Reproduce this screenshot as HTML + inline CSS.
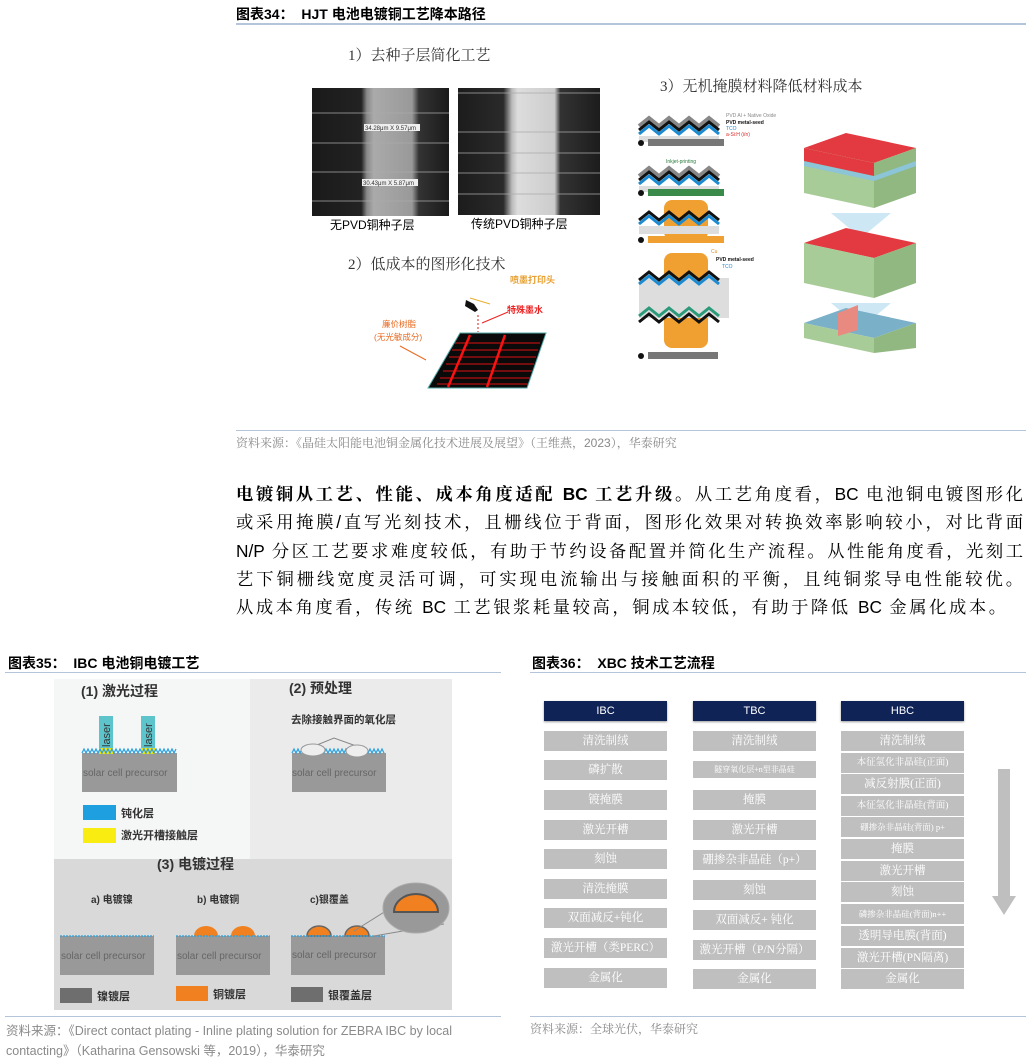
<!DOCTYPE html>
<html><head><meta charset="utf-8"><style>
*{margin:0;padding:0;box-sizing:border-box}
body{width:1030px;height:1061px;background:#fff;position:relative;overflow:hidden;font-family:"Liberation Sans","Noto Sans CJK SC",sans-serif;color:#000}
.a{position:absolute;white-space:nowrap}
.h{font-size:14px;font-weight:bold}
.rule{position:absolute;height:2px;background:#b4c4da}
.src{font-size:12px;color:#8a8a8a}
.p{position:absolute;left:236px;width:787px;font-size:17.3px;height:28px;line-height:28px;text-align:justify;text-align-last:justify;white-space:nowrap;font-family:"Liberation Sans","Noto Serif CJK SC",serif}
.hd{position:absolute;height:20px;background:#0f2357;color:#fff;font-size:11px;text-align:center;line-height:20px;box-shadow:0 1px 2px #999}
.b{position:absolute;height:20px;background:#bfbfbf;color:#fff;font-size:11.5px;text-align:center;line-height:20px;font-family:"Liberation Serif","Noto Serif CJK SC",serif}
</style></head><body>

<!-- Figure 34 -->
<div class="a h" style="left:236px;top:4px">图表34：&nbsp; HJT 电池电镀铜工艺降本路径</div>
<div class="rule" style="left:236px;top:23px;width:790px"></div>
<div class="a" style="left:348px;top:44px;font-size:15px;font-family:'Liberation Serif','Noto Serif CJK SC',serif;color:#333">1）去种子层简化工艺</div>
<svg class="a" style="left:312px;top:88px" width="290" height="130">
<defs>
<linearGradient id="g1" x1="0" x2="1"><stop offset="0" stop-color="#1a1a1a"/><stop offset=".36" stop-color="#222"/><stop offset=".4" stop-color="#888"/><stop offset=".45" stop-color="#aaa"/><stop offset=".73" stop-color="#999"/><stop offset=".78" stop-color="#333"/><stop offset="1" stop-color="#1a1a1a"/></linearGradient>
<linearGradient id="g2" x1="0" x2="1"><stop offset="0" stop-color="#1c1c1c"/><stop offset=".32" stop-color="#2a2a2a"/><stop offset=".38" stop-color="#bbb"/><stop offset=".42" stop-color="#ddd"/><stop offset=".68" stop-color="#ccc"/><stop offset=".72" stop-color="#333"/><stop offset="1" stop-color="#1c1c1c"/></linearGradient>
</defs>
<rect x="0" y="0" width="137" height="128" fill="url(#g1)"/>
<rect x="146" y="0" width="142" height="127" fill="url(#g2)"/>
<g stroke="#aaa" stroke-width="0.8"><line x1="0" y1="25" x2="137" y2="25"/><line x1="0" y1="55" x2="137" y2="55"/><line x1="0" y1="84" x2="137" y2="84"/><line x1="0" y1="113" x2="137" y2="113"/>
<line x1="146" y1="5" x2="288" y2="5"/><line x1="146" y1="44" x2="288" y2="44"/><line x1="146" y1="65" x2="288" y2="65"/><line x1="146" y1="85" x2="288" y2="85"/><line x1="146" y1="106" x2="288" y2="106"/></g>
<rect x="52" y="36" width="56" height="7" fill="#eee"/><text x="53" y="42" font-size="6" fill="#333">34.28μm X 9.57μm</text>
<rect x="50" y="91" width="56" height="7" fill="#eee"/><text x="51" y="97" font-size="6" fill="#333">30.43μm X 5.87μm</text>
</svg>
<div class="a" style="left:330px;top:216px;font-size:12px">无PVD铜种子层</div>
<div class="a" style="left:471px;top:215px;font-size:12px">传统PVD铜种子层</div>
<div class="a" style="left:348px;top:253px;font-size:15px;font-family:'Liberation Serif','Noto Serif CJK SC',serif;color:#333">2）低成本的图形化技术</div>
<svg class="a" style="left:360px;top:270px" width="280" height="130">
<polygon points="100,63 186,63 167,118 68,118" fill="#0a0a0a" stroke="#5aa" stroke-width="1"/>
<g stroke="#d11" stroke-width="1"><line x1="95" y1="73" x2="180" y2="73"/><line x1="92" y1="80" x2="178" y2="80"/><line x1="89" y1="87" x2="176" y2="87"/><line x1="86" y1="94" x2="174" y2="94"/><line x1="83" y1="101" x2="172" y2="101"/><line x1="80" y1="108" x2="170" y2="108"/><line x1="77" y1="114" x2="168" y2="114"/></g>
<g stroke="#f11" stroke-width="2.5"><line x1="110" y1="65" x2="88" y2="117"/><line x1="145" y1="65" x2="127" y2="117"/></g>
<path d="M106,30 l8,4 l4,6 l-3,2 l-10,-6z" fill="#111"/>
<line x1="118" y1="45" x2="118" y2="62" stroke="#c22" stroke-dasharray="2,2"/>
<line x1="130" y1="34" x2="110" y2="28" stroke="#e8b030"/>
<text x="150" y="13" font-size="9" fill="#e8a030" font-weight="bold">喷墨打印头</text>
<line x1="122" y1="53" x2="148" y2="42" stroke="#e22"/>
<text x="147" y="43" font-size="9" fill="#e22" font-weight="bold">特殊墨水</text>
<text x="22" y="57" font-size="8.5" fill="#e86a20">廉价树脂</text>
<text x="14" y="70" font-size="8.5" fill="#e86a20">(无光敏成分)</text>
<line x1="40" y1="76" x2="66" y2="90" stroke="#e86a20"/>
</svg>
<div class="a" style="left:660px;top:75px;font-size:15px;font-family:'Liberation Serif','Noto Serif CJK SC',serif;color:#333">3）无机掩膜材料降低材料成本</div>
<svg class="a" style="left:636px;top:108px" width="300" height="260" font-size="5">
<g fill="none" stroke-width="3">
<path d="M3,18 l10,-8 l10,8 l10,-8 l10,8 l10,-8 l10,8 l10,-8 l10,8" stroke="#888" stroke-width="4"/>
<path d="M3,22 l10,-8 l10,8 l10,-8 l10,8 l10,-8 l10,8 l10,-8 l10,8" stroke="#111"/>
<path d="M3,26 l10,-8 l10,8 l10,-8 l10,8 l10,-8 l10,8 l10,-8 l10,8" stroke="#1b8ad0"/>
</g>
<rect x="3" y="28" width="80" height="6" fill="#ddd"/>
<rect x="12" y="31" width="76" height="7" fill="#777"/><circle cx="5" cy="35" r="3" fill="#111"/>
<text x="90" y="9" fill="#888">PVD Al + Native Oxide</text><text x="90" y="16" fill="#111" font-weight="bold">PVD metal-seed</text><text x="90" y="22" fill="#1b8ad0">TCO</text><text x="90" y="28" fill="#d22">a-Si:H (i/n)</text>
<text x="30" y="55" fill="#2a7a3a">Inkjet-printing</text>
<g fill="none" stroke-width="3">
<path d="M3,68 l10,-8 l10,8 l10,-8 l10,8 l10,-8 l10,8 l10,-8 l10,8" stroke="#888" stroke-width="4"/>
<path d="M3,72 l10,-8 l10,8 l10,-8 l10,8 l10,-8 l10,8 l10,-8 l10,8" stroke="#111"/>
<path d="M3,76 l10,-8 l10,8 l10,-8 l10,8 l10,-8 l10,8 l10,-8 l10,8" stroke="#1b8ad0"/></g>
<rect x="3" y="78" width="80" height="6" fill="#ddd"/>
<rect x="12" y="81" width="76" height="7" fill="#3a8a4a"/><circle cx="5" cy="85" r="3" fill="#111"/>
<rect x="28" y="92" width="44" height="40" rx="8" fill="#f0a030"/>
<g fill="none" stroke-width="3">
<path d="M3,112 l10,-8 l10,8 l10,-8 l10,8 l10,-8 l10,8 l10,-8 l10,8" stroke="#111"/>
<path d="M3,116 l10,-8 l10,8 l10,-8 l10,8 l10,-8 l10,8 l10,-8 l10,8" stroke="#1b8ad0"/></g>
<rect x="3" y="118" width="80" height="8" fill="#ddd"/>
<rect x="12" y="128" width="76" height="7" fill="#f0a030"/><circle cx="5" cy="132" r="3" fill="#111"/>
<rect x="28" y="145" width="44" height="95" rx="8" fill="#f0a030"/>
<rect x="3" y="170" width="90" height="40" fill="#ddd"/>
<g fill="none" stroke-width="3">
<path d="M3,172 l10,-8 l10,8 l10,-8 l10,8 l10,-8 l10,8 l10,-8 l10,8" stroke="#111"/>
<path d="M3,176 l10,-8 l10,8 l10,-8 l10,8 l10,-8 l10,8 l10,-8 l10,8" stroke="#1b8ad0"/>
<path d="M3,208 l10,-8 l10,8 l10,-8 l10,8 l10,-8 l10,8 l10,-8 l10,8" stroke="#2a9a7a"/>
<path d="M3,214 l10,-8 l10,8 l10,-8 l10,8 l10,-8 l10,8 l10,-8 l10,8" stroke="#111"/></g>
<text x="80" y="153" fill="#111" font-weight="bold">PVD metal-seed</text><text x="86" y="160" fill="#1b8ad0">TCO</text><text x="75" y="145" fill="#e08a20">Cu</text>
<rect x="12" y="244" width="70" height="7" fill="#777"/><circle cx="5" cy="248" r="3" fill="#111"/>
<polygon points="168,40 210,25 280,40 238,55" fill="#e23a40"/><polygon points="168,40 238,55 238,100 168,85" fill="#a8cc98"/><polygon points="238,55 280,40 280,85 238,100" fill="#90b880"/>
<polygon points="168,53 238,68 280,53 280,58 238,73 168,58" fill="#8cc4d8"/>
<polygon points="168,40 238,55 238,68 168,53" fill="#e23a40"/>
<polygon points="195,105 255,105 225,130" fill="#cde8f4"/>
<polygon points="168,135 210,120 280,135 238,150" fill="#e23a40"/><polygon points="168,135 238,150 238,190 168,175" fill="#a8cc98"/><polygon points="238,150 280,135 280,175 238,190" fill="#90b880"/>
<polygon points="195,195 255,195 225,220" fill="#cde8f4"/>
<polygon points="168,215 210,200 280,215 238,230" fill="#7ab0c8"/><polygon points="168,215 238,230 238,245 168,230" fill="#a8cc98"/><polygon points="238,230 280,215 280,240 238,245" fill="#90b880"/>
<polygon points="202,205 222,197 222,222 202,228" fill="#e88a80"/>
</svg>
<div class="rule" style="left:236px;top:430px;width:790px;height:1px"></div>
<div class="a src" style="left:236px;top:434px;font-family:'Liberation Sans','Noto Serif CJK SC',serif">资料来源：《晶硅太阳能电池铜金属化技术进展及展望》（王维燕，2023），华泰研究</div>

<div class="p" style="top:480px"><b>电镀铜从工艺、性能、成本角度适配 BC 工艺升级。</b>从工艺角度看，BC 电池铜电镀图形化</div>
<div class="p" style="top:508px">或采用掩膜/直写光刻技术，且栅线位于背面，图形化效果对转换效率影响较小，对比背面</div>
<div class="p" style="top:537px">N/P 分区工艺要求难度较低，有助于节约设备配置并简化生产流程。从性能角度看，光刻工</div>
<div class="p" style="top:565px">艺下铜栅线宽度灵活可调，可实现电流输出与接触面积的平衡，且纯铜浆导电性能较优。</div>
<div class="p" style="top:593px;width:770px">从成本角度看，传统 BC 工艺银浆耗量较高，铜成本较低，有助于降低 BC 金属化成本。</div>

<!-- Figure 35 -->
<div class="a h" style="left:8px;top:653px">图表35：&nbsp; IBC 电池铜电镀工艺</div>
<div class="rule" style="left:5px;top:672px;width:496px;height:1px"></div>
<svg class="a" style="left:54px;top:679px" width="398" height="331" font-family="Liberation Sans,Noto Sans CJK SC,sans-serif">
<rect x="0" y="0" width="398" height="331" fill="#d9d9d9"/>
<rect x="0" y="0" width="196" height="180" fill="#f5f6f6"/>
<rect x="196" y="0" width="202" height="180" fill="#ebebeb"/>
<text x="27" y="17" font-size="14" font-weight="bold" fill="#333">(1) 激光过程</text>
<rect x="45" y="37" width="14" height="34" fill="#5ec4cc"/><rect x="87" y="37" width="14" height="34" fill="#5ec4cc"/>
<text transform="translate(56,68) rotate(-90)" font-size="11" fill="#333">laser</text>
<text transform="translate(98,68) rotate(-90)" font-size="11" fill="#333">laser</text>
<rect x="28" y="74" width="95" height="39" fill="#999"/>
<rect x="45" y="69" width="14" height="6" fill="#f0e010"/><rect x="87" y="69" width="14" height="6" fill="#f0e010"/>
<path d="M28,74 l2,-4 l2,4 l2,-4 l2,4 l2,-4 l2,4 l2,-4 l2,4 l2,-4 l2,4 l2,-4 l2,4 l2,-4 l2,4 l2,-4 l2,4 l2,-4 l2,4 l2,-4 l2,4 l2,-4 l2,4 l2,-4 l2,4 l2,-4 l2,4 l2,-4 l2,4 l2,-4 l2,4 l2,-4 l2,4 l2,-4 l2,4 l2,-4 l2,4 l2,-4 l2,4 l2,-4 l2,4 l2,-4 l2,4 l2,-4 l2,4 l2,-4 l2,4 l2,-4" fill="none" stroke="#2aa0e0" stroke-width="1.2"/>
<text x="29" y="97" font-size="10" fill="#666">solar cell precursor</text>
<rect x="29" y="126" width="33" height="15" fill="#1ea0e0"/><text x="67" y="138" font-size="11" font-weight="bold" fill="#333">钝化层</text>
<rect x="29" y="149" width="33" height="15" fill="#f8ec10"/><text x="67" y="160" font-size="11" font-weight="bold" fill="#333">激光开槽接触层</text>
<text x="235" y="14" font-size="14" font-weight="bold" fill="#333">(2) 预处理</text>
<text x="237" y="44" font-size="10.5" font-weight="bold" fill="#333">去除接触界面的氧化层</text>
<polyline points="258,68 280,59 305,68" fill="none" stroke="#888"/>
<rect x="238" y="74" width="94" height="39" fill="#999"/>
<path d="M238,74 l2,-4 l2,4 l2,-4 l2,4 l2,-4 l2,4 l2,-4 l2,4 l2,-4 l2,4 l2,-4 l2,4 l2,-4 l2,4 l2,-4 l2,4 l2,-4 l2,4 l2,-4 l2,4 l2,-4 l2,4 l2,-4 l2,4 l2,-4 l2,4 l2,-4 l2,4 l2,-4 l2,4 l2,-4 l2,4 l2,-4 l2,4 l2,-4 l2,4 l2,-4 l2,4 l2,-4 l2,4 l2,-4 l2,4 l2,-4 l2,4 l2,-4 l2,4" fill="none" stroke="#2aa0e0" stroke-width="1.2"/>
<ellipse cx="259" cy="71" rx="12" ry="6" fill="#eee" stroke="#999"/><ellipse cx="303" cy="72" rx="11" ry="6" fill="#eee" stroke="#999"/>
<text x="238" y="97" font-size="10" fill="#666">solar cell precursor</text>
<text x="103" y="190" font-size="14" font-weight="bold" fill="#333">(3) 电镀过程</text>
<text x="37" y="224" font-size="10" font-weight="bold" fill="#333">a) 电镀镍</text>
<text x="143" y="224" font-size="10" font-weight="bold" fill="#333">b) 电镀铜</text>
<text x="256" y="224" font-size="10" font-weight="bold" fill="#333">c)银覆盖</text>
<g>
<rect x="6" y="257" width="94" height="39" fill="#999"/>
<rect x="122" y="257" width="94" height="39" fill="#999"/>
<rect x="237" y="257" width="94" height="39" fill="#999"/>
<path d="M140,257 a12,10 0 0 1 24,0z M177,257 a12,10 0 0 1 24,0z" fill="#f08020"/>
<path d="M253,257 a12,10 0 0 1 24,0z M291,257 a12,10 0 0 1 24,0z" fill="#f08020" stroke="#666" stroke-width="1.5"/>
<g stroke="#2aa0e0" stroke-width="1.2" fill="none">
<path d="M6,257 h94 M122,257 h94 M237,257 h94" stroke-dasharray="2,1"/>
</g>
<text x="7" y="280" font-size="10" fill="#666">solar cell precursor</text>
<text x="123" y="280" font-size="10" fill="#666">solar cell precursor</text>
<text x="238" y="279" font-size="10" fill="#666">solar cell precursor</text>
</g>
<line x1="300" y1="252" x2="343" y2="225" stroke="#888"/><line x1="320" y1="257" x2="390" y2="245" stroke="#888"/>
<ellipse cx="362" cy="229" rx="33" ry="25" fill="#999" stroke="#aaa"/>
<path d="M340,233 a22,18 0 0 1 44,0z" fill="#f08020" stroke="#555" stroke-width="2"/>
<rect x="6" y="309" width="32" height="15" fill="#6e6e6e"/><text x="43" y="321" font-size="11" font-weight="bold" fill="#333">镍镀层</text>
<rect x="122" y="307" width="32" height="15" fill="#f08020"/><text x="159" y="319" font-size="11" font-weight="bold" fill="#333">铜镀层</text>
<rect x="237" y="308" width="32" height="15" fill="#6e6e6e"/><text x="274" y="320" font-size="11" font-weight="bold" fill="#333">银覆盖层</text>
</svg>
<div class="rule" style="left:5px;top:1016px;width:496px;height:1px"></div>
<div class="a src" style="left:6px;top:1020px;font-size:12.5px">资料来源：《Direct contact plating - Inline plating solution for ZEBRA IBC by local</div>
<div class="a src" style="left:6px;top:1040px;font-size:12.5px">contacting》（Katharina Gensowski 等，2019），华泰研究</div>

<!-- Figure 36 -->
<div class="a h" style="left:532px;top:653px">图表36：&nbsp; XBC 技术工艺流程</div>
<div class="rule" style="left:530px;top:672px;width:496px;height:1px"></div>
<div class="hd" style="left:544px;top:701px;width:123px">IBC</div>
<div class="hd" style="left:693px;top:701px;width:123px">TBC</div>
<div class="hd" style="left:841px;top:701px;width:123px">HBC</div>

<div class="b" style="left:544px;top:731px;width:123px">清洗制绒</div>
<div class="b" style="left:544px;top:760px;width:123px">磷扩散</div>
<div class="b" style="left:544px;top:790px;width:123px">镀掩膜</div>
<div class="b" style="left:544px;top:820px;width:123px">激光开槽</div>
<div class="b" style="left:544px;top:849px;width:123px">刻蚀</div>
<div class="b" style="left:544px;top:879px;width:123px">清洗掩膜</div>
<div class="b" style="left:544px;top:908px;width:123px">双面减反+钝化</div>
<div class="b" style="left:544px;top:938px;width:123px">激光开槽（类PERC）</div>
<div class="b" style="left:544px;top:968px;width:123px">金属化</div>

<div class="b" style="left:693px;top:731px;width:123px">清洗制绒</div>
<div class="b" style="left:693px;top:761px;width:123px;height:17px;line-height:17px;font-size:8px">隧穿氧化层+n型非晶硅</div>
<div class="b" style="left:693px;top:790px;width:123px">掩膜</div>
<div class="b" style="left:693px;top:820px;width:123px">激光开槽</div>
<div class="b" style="left:693px;top:850px;width:123px">硼掺杂非晶硅（p+）</div>
<div class="b" style="left:693px;top:880px;width:123px">刻蚀</div>
<div class="b" style="left:693px;top:910px;width:123px">双面减反+ 钝化</div>
<div class="b" style="left:693px;top:940px;width:123px">激光开槽（P/N分隔）</div>
<div class="b" style="left:693px;top:969px;width:123px">金属化</div>

<div class="b" style="left:841px;top:731px;width:123px">清洗制绒</div>
<div class="b" style="left:841px;top:753px;width:123px;font-size:9.5px">本征氢化非晶硅(正面)</div>
<div class="b" style="left:841px;top:774px;width:123px">减反射膜(正面)</div>
<div class="b" style="left:841px;top:796px;width:123px;font-size:9.5px">本征氢化非晶硅(背面)</div>
<div class="b" style="left:841px;top:817px;width:123px;font-size:8.5px">硼掺杂非晶硅(背面) p+</div>
<div class="b" style="left:841px;top:839px;width:123px">掩膜</div>
<div class="b" style="left:841px;top:861px;width:123px">激光开槽</div>
<div class="b" style="left:841px;top:882px;width:123px">刻蚀</div>
<div class="b" style="left:841px;top:904px;width:123px;font-size:8.5px">磷掺杂非晶硅(背面)n++</div>
<div class="b" style="left:841px;top:926px;width:123px">透明导电膜(背面)</div>
<div class="b" style="left:841px;top:948px;width:123px">激光开槽(PN隔离)</div>
<div class="b" style="left:841px;top:969px;width:123px">金属化</div>

<svg class="a" style="left:992px;top:769px" width="24" height="148">
<rect x="6" y="0" width="12" height="128" fill="#bfbfbf"/>
<polygon points="0,127 24,127 12,146" fill="#bfbfbf"/>
</svg>
<div class="rule" style="left:530px;top:1016px;width:496px;height:1px"></div>
<div class="a src" style="left:530px;top:1020px;font-family:'Liberation Sans','Noto Serif CJK SC',serif">资料来源：全球光伏，华泰研究</div>
</body></html>
